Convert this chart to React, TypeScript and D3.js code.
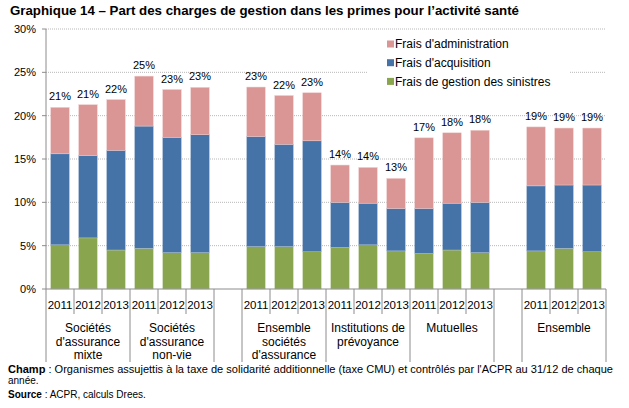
import { useEffect } from "react";
import * as d3 from "d3";

const W = 629,
  H = 408;
const margin = { top: 29, left: 46, right: 23, bottom: 119 };

const groups = [
  { name: ["Sociétés", "d'assurance", "mixte"], key: "mixte" },
  { name: ["Sociétés", "d'assurance", "non-vie"], key: "nonvie" },
  { name: ["Ensemble", "sociétés", "d'assurance"], key: "ens_soc" },
  { name: ["Institutions de", "prévoyance"], key: "ip" },
  { name: ["Mutuelles"], key: "mut" },
  { name: ["Ensemble"], key: "ens" },
];
const years = ["2011", "2012", "2013"];

// slot order on x axis (gaps are empty slots)
const slots = [
  "mixte", "nonvie", "gap1", "ens_soc", "ip", "mut", "gap2", "ens",
];

// values in %, per bar (3 years per group)
const sinistres = [5.1, 5.9, 4.5, 4.7, 4.2, 4.2, 4.9, 4.9, 4.3, 4.8, 5.1, 4.4, 4.1, 4.5, 4.2, 4.4, 4.7, 4.3];
const acquisition = [10.5, 9.5, 11.5, 14.1, 13.3, 13.6, 12.7, 11.8, 12.8, 5.2, 4.8, 4.9, 5.2, 5.4, 5.8, 7.5, 7.3, 7.7];
const administration = [5.35, 5.86, 5.85, 5.76, 5.51, 5.46, 5.7, 5.62, 5.54, 4.3, 4.12, 3.46, 8.14, 8.12, 8.31, 6.8, 6.57, 6.57];
const totals = ["21%", "21%", "22%", "25%", "23%", "23%", "23%", "22%", "23%", "14%", "14%", "13%", "17%", "18%", "18%", "19%", "19%", "19%"];

const yTicks = [0, 5, 10, 15, 20, 25, 30];
const seriesNames = ["Frais d'administration", "Frais d'acquisition", "Frais de gestion des sinistres"];
const colors = { sin: "#89A54E", acq: "#4572A7", adm: "#D99694" };

const font = "'Liberation Sans', Arial, sans-serif";

export default function App() {
  useEffect(() => {
    document.body.style.margin = "0";
  }, []);

  // build slot keys: group-year or gap
  const slotKeys: string[] = [];
  slots.forEach((s) => {
    if (s.startsWith("gap")) slotKeys.push(s);
    else years.forEach((y) => slotKeys.push(s + "-" + y));
  });

  const x = d3
    .scaleBand<string>()
    .domain(slotKeys)
    .range([margin.left, W - margin.right])
    .padding(0);
  const y = d3
    .scaleLinear()
    .domain([0, 30])
    .range([H - margin.bottom, margin.top]);

  const bw = x.bandwidth();
  const barW = bw * 0.66;

  const bars = groups.flatMap((g, gi) =>
    years.map((yr, yi) => {
      const i = gi * 3 + yi;
      return {
        key: g.key + "-" + yr,
        yr,
        i,
        s: sinistres[i],
        a: acquisition[i],
        d: administration[i],
      };
    })
  );

  const y0 = y(0);
  const bounds = d3.range(slotKeys.length + 1).map((k) => margin.left + k * bw);
  const longIdx = new Set<number>([0, slotKeys.length]);
  slotKeys.forEach((k, i) => {
    const g = k.split("-")[0];
    const prev = i > 0 ? slotKeys[i - 1].split("-")[0] : null;
    if (prev !== null && prev !== g) longIdx.add(i);
  });

  const grid = "#8c8c8c";

  return (
    <svg
      width={W}
      height={H}
      style={{ display: "block", background: "#fff", fontFamily: font }}
    >
      <text x={10} y={15} fontSize={12} fontWeight="bold" textLength={509} lengthAdjust="spacingAndGlyphs">
        Graphique 14 – Part des charges de gestion dans les primes pour l’activité santé
      </text>

      {/* gridlines */}
      {yTicks.slice(1).map((t) => (
        <line
          key={t}
          x1={margin.left}
          x2={W - margin.right}
          y1={y(t)}
          y2={y(t)}
          stroke="#a6a6a6"
          strokeWidth={0.8}
          strokeDasharray="1,1"
        />
      ))}

      {/* legend background */}
      <rect x={367} y={34} width={202} height={58} fill="#fff" />
      {seriesNames.map((n, i) => (
        <g key={n} transform={`translate(387,${44 + i * 18.7})`}>
          <rect x={0} y={-3.5} width={7} height={7} fill={[colors.adm, colors.acq, colors.sin][i]} />
          <text x={8} y={4.2} fontSize={12} fill="#000">
            {n}
          </text>
        </g>
      ))}

      {/* y axis */}
      <line x1={margin.left} x2={margin.left} y1={y(30)} y2={y0} stroke={grid} />
      {yTicks.map((t) => (
        <g key={t}>
          <line x1={margin.left - 4} x2={margin.left} y1={y(t)} y2={y(t)} stroke={grid} />
          <text x={36} y={y(t) + 4} fontSize={11} textAnchor="end">
            {t + "%"}
          </text>
        </g>
      ))}

      {/* bars */}
      {bars.map((b) => {
        const bx = (x(b.key) as number) + (bw - barW) / 2;
        const top = b.s + b.a + b.d;
        return (
          <g key={b.key}>
            <rect x={bx} width={barW} y={y(b.s)} height={y0 - y(b.s)} fill={colors.sin} stroke="#c9d6b0" strokeWidth={0.5} />
            <rect x={bx} width={barW} y={y(b.s + b.a)} height={y(b.s) - y(b.s + b.a)} fill={colors.acq} stroke="#9fb4d1" strokeWidth={0.5} />
            <rect x={bx} width={barW} y={y(top)} height={y(b.s + b.a) - y(top)} fill={colors.adm} stroke="#efcaca" strokeWidth={0.5} />
            <text x={bx + barW / 2} y={y(top) - 7} fontSize={11} textAnchor="middle">
              {totals[b.i]}
            </text>
            <text x={(x(b.key) as number) + bw / 2} y={309} fontSize={11.5} textAnchor="middle">
              {b.yr}
            </text>
          </g>
        );
      })}

      {/* x axis */}
      <line x1={margin.left} x2={W - margin.right} y1={y0} y2={y0} stroke={grid} />
      {bounds.map((bx, i) => (
        <line key={i} x1={bx} x2={bx} y1={y0} y2={longIdx.has(i) ? 362 : 314} stroke={grid} />
      ))}

      {/* group labels */}
      {groups.map((g) => {
        const cx = (x(g.key + "-2012") as number) + bw / 2;
        return (
          <text key={g.key} fontSize={12} textAnchor="middle">
            {g.name.map((l, li) => (
              <tspan key={li} x={cx} y={332 + li * 13.6}>
                {l}
              </tspan>
            ))}
          </text>
        );
      })}

      {/* footer */}
      <text x={8} y={373.3} fontSize={10} textLength={605} lengthAdjust="spacingAndGlyphs">
        <tspan fontWeight="bold">Champ</tspan>
        <tspan> : Organismes assujettis à la taxe de solidarité additionnelle (taxe CMU) et contrôlés par l'ACPR au 31/12 de chaque</tspan>
      </text>
      <text x={8} y={383.5} fontSize={10}>
        année.
      </text>
      <text x={8} y={398.3} fontSize={10}>
        <tspan fontWeight="bold">Source</tspan>
        <tspan> : ACPR, calculs Drees.</tspan>
      </text>
    </svg>
  );
}
